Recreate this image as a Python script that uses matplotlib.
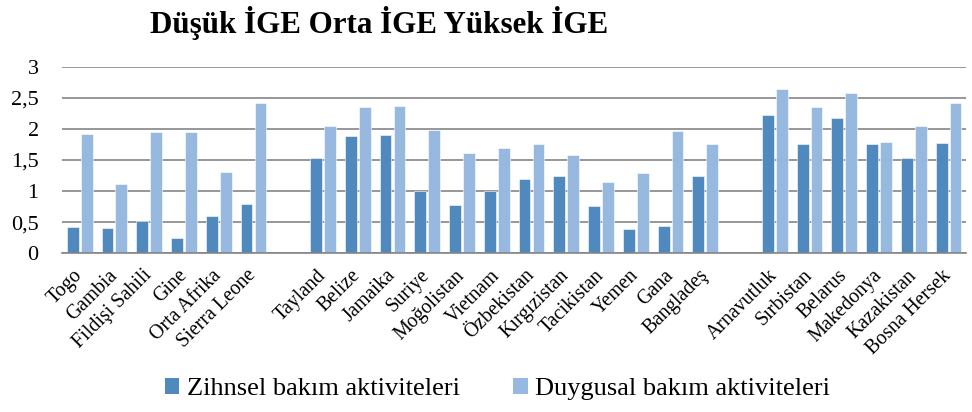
import matplotlib
matplotlib.use("Agg")
import matplotlib.pyplot as plt
from matplotlib.patches import Patch
import numpy as np

plt.rcParams['font.family'] = ['Liberation Serif', 'DejaVu Serif']

title = "Düşük İGE Orta İGE Yüksek İGE"
countries = ["Togo", "Gambia", "Fildişi Sahili", "Gine", "Orta Afrika", "Sierra Leone", "",
             "Tayland", "Belize", "Jamaika", "Suriye", "Moğolistan", "Vietnam", "Özbekistan",
             "Kırgızistan", "Tacikistan", "Yemen", "Gana", "Bangladeş", "",
             "Arnavutluk", "Sırbistan", "Belarus", "Makedonya", "Kazakistan", "Bosna Hersek"]
zihnsel = [0.42, 0.40, 0.52, 0.25, 0.60, 0.79, np.nan,
           1.53, 1.88, 1.90, 1.00, 0.78, 1.00, 1.19, 1.24, 0.76, 0.39, 0.44, 1.24, np.nan,
           2.22, 1.76, 2.17, 1.76, 1.54, 1.77]
duygusal = [1.92, 1.11, 1.95, 1.95, 1.31, 2.41, np.nan,
            2.05, 2.35, 2.37, 1.99, 1.61, 1.69, 1.76, 1.58, 1.15, 1.29, 1.96, 1.76, np.nan,
            2.64, 2.35, 2.57, 1.79, 2.04, 2.41]
series_names = ["Zihnsel bakım aktiviteleri", "Duygusal bakım aktiviteleri"]
yticks = [0, 0.5, 1, 1.5, 2, 2.5, 3]
ytick_labels = ["0", "0,5", "1", "1,5", "2", "2,5", "3"]

c_dark = "#4F89BD"
c_light = "#97B8DF"

fig = plt.figure(figsize=(9.72, 4.12), dpi=100)
ax = fig.add_axes([0.0641, 0.3852, 0.9297, 0.4529])

x = np.arange(len(countries))
w = 0.34
ax.bar(x - 0.2, zihnsel, width=w, color=c_dark, edgecolor="white", linewidth=0.4, zorder=3)
ax.bar(x + 0.2, duygusal, width=w, color=c_light, edgecolor="white", linewidth=0.4, zorder=3)

ax.set_xlim(-0.5, len(countries) - 0.5)
ax.set_ylim(0, 3)
ax.set_yticks(yticks)
ax.set_yticklabels(ytick_labels, fontsize=16)
ax.tick_params(axis='y', length=0, pad=17)
ax.set_xticks(x)
ax.set_xticklabels(countries, rotation=45, ha='right', va='center',
                   rotation_mode='anchor', fontsize=14.3)
ax.tick_params(axis='x', length=0, pad=14)

ax.grid(axis='y', color="#858585", linewidth=1.2, zorder=0)
for s in ["top", "right", "left"]:
    ax.spines[s].set_visible(False)
ax.spines["bottom"].set_color("#858585")
ax.spines["bottom"].set_linewidth(1.2)
ax.spines["bottom"].set_zorder(4)

fig.text(0.154, 0.945, title, fontsize=22.3, fontweight='bold', ha='left', va='center')

handles = [Patch(facecolor=c_dark, edgecolor='none'), Patch(facecolor=c_light, edgecolor='none')]
fig.legend(handles, series_names, loc='center', bbox_to_anchor=(0.512, 0.055), ncol=2,
           frameon=False, fontsize=19, handlelength=0.55, handleheight=0.55,
           handletextpad=0.3, columnspacing=2.0)

fig.savefig("out.png", dpi=100)
